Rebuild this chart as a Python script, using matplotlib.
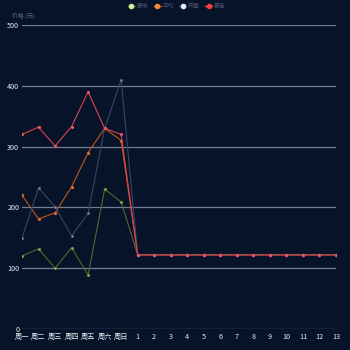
import matplotlib
matplotlib.use("Agg")
import matplotlib.pyplot as plt
from matplotlib.lines import Line2D

plt.rcParams['font.family'] = ['Noto Sans CJK SC', 'DejaVu Sans']

categories = ['周一', '周二', '周三', '周四', '周五', '周六', '周日',
              '1', '2', '3', '4', '5', '6', '7', '8', '9', '10', '11', '12', '13']

series_names = ['最低', '平均', '开盘', '最高']
series_green = [120, 132, 100, 134, 89, 230, 209] + [122] * 13
series_orange = [220, 181, 191, 234, 290, 330, 310] + [122] * 13
series_blue = [150, 232, 201, 153, 190, 330, 410] + [122] * 13
series_red = [320, 332, 301, 333, 390, 330, 320] + [122] * 13

y_ticks = [0, 100, 200, 300, 400, 500]

bg = '#061329'
line_colors = ['#56662c', '#c2571f', '#36456a', '#d8434b']
dot_colors = ['#a7b46a', '#e77d3c', '#7f8db0', '#f06a70']
legend_colors = ['#d9e6a0', '#f08a3c', '#e8ecf5', '#ff3b45']

fig = plt.figure(figsize=(3.5, 3.5), dpi=100, facecolor=bg)
ax = fig.add_axes([22 / 350, 21 / 350, 314 / 350, 304 / 350])
ax.set_facecolor(bg)

x = list(range(len(categories)))
all_series = [series_green, series_orange, series_blue, series_red]
for i, vals in enumerate(all_series):
    ax.plot(x, vals, color=line_colors[i], lw=0.8, zorder=3 + i,
            marker='o', ms=2.0, mfc=dot_colors[i], mec=line_colors[i], mew=0.4)

ax.set_xlim(0, len(categories) - 1)
ax.set_ylim(0, 500)
ax.set_yticks(y_ticks)
ax.set_xticks(x)
ax.set_xticklabels(categories)
ax.grid(axis='y', color='#737f95', lw=0.9, zorder=1)
for s in ax.spines.values():
    s.set_visible(False)
ax.tick_params(axis='both', length=0, colors='#e8ecf2', labelsize=5.2, pad=2)
ax.tick_params(axis='x', pad=3)

fig.text(12 / 350, 1 - 16 / 350, '价格 (元)', color='#5d6a80', fontsize=4.2,
         va='center', ha='left')

handles = [Line2D([0], [0], color=line_colors[i], lw=1.0, marker='o', ms=3,
                  mfc=legend_colors[i], mec=legend_colors[i])
           for i in range(4)]
fig.legend(handles, series_names, loc='upper center', bbox_to_anchor=(0.505, 1.005),
           ncol=4, frameon=False, fontsize=4.2, labelcolor='#4a5670',
           handlelength=1.2, handletextpad=0.3, columnspacing=0.9)

fig.savefig('out.png', dpi=100, facecolor=bg)
